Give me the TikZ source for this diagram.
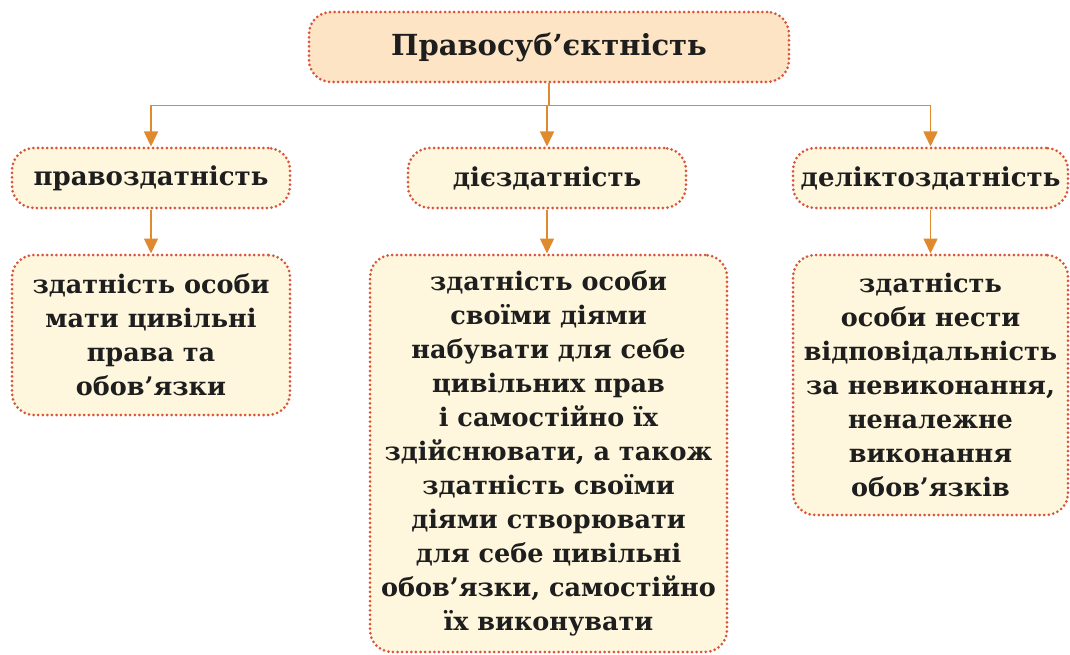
\documentclass[tikz,border=0pt]{standalone}
\usepackage{fontspec}
\setmainfont{DejaVu Serif}
\usetikzlibrary{arrows.meta}
\definecolor{dotc}{HTML}{D9553A}
\definecolor{arrc}{HTML}{E08A30}
\definecolor{topfill}{HTML}{FDE4C4}
\definecolor{boxfill}{HTML}{FEF7DD}
\definecolor{txt}{HTML}{1E1E1E}
\tikzset{
  x=1pt,y=1pt,
  dotbox/.style={draw=dotc, line width=3pt, dash pattern=on 0pt off 4.6pt, line cap=round,
    rounded corners=22pt, fill=boxfill, text=txt, align=center, inner sep=0pt, font=\bfseries\fontsize{25.5}{34}\selectfont},
  topbox/.style={dotbox, fill=topfill, font=\bfseries\fontsize{29}{34}\selectfont},
  lvl/.style={dotbox, font=\bfseries\fontsize{26}{30}\selectfont},
  conn/.style={draw=arrc, line width=1.6pt},
  arr/.style={conn, -{Triangle[width=14pt,length=15pt]}}
}
\begin{document}
\begin{tikzpicture}
\useasboundingbox (0,0) rectangle (1070,-655);
\node[topbox, minimum width=480pt, minimum height=70pt] (top) at (549,-47) {Правосуб’єктність};
\node[lvl, minimum width=278pt, minimum height=60pt] (a) at (151,-178) {правоздатність};
\node[lvl, minimum width=278pt, minimum height=60pt] (b) at (547,-178) {дієздатність};
\node[lvl, minimum width=275pt, minimum height=60pt] (c) at (930.5,-178) {деліктоздатність};
\node[dotbox, minimum width=278pt, minimum height=160pt] (a2) at (151,-335)
  {здатність особи\\мати цивільні\\права та\\обов’язки};
\node[dotbox, minimum width=357pt, minimum height=397pt] (b2) at (548.5,-453.5)
  {здатність особи\\своїми діями\\набувати для себе\\цивільних прав\\і самостійно їх\\здійснювати, а також\\здатність своїми\\діями створювати\\для себе цивільні\\обов’язки, самостійно\\їх виконувати};
\node[dotbox, minimum width=275pt, minimum height=260pt] (c2) at (930.5,-385)
  {здатність\\особи нести\\відповідальність\\за невиконання,\\неналежне\\виконання\\обов’язків};
\draw[conn] (top.south) -- ++(0,-22) coordinate (j);
\draw[conn] (j -| a.north) -- (j -| c.north);
\draw[arr] (j -| a.north) -- (a.north);
\draw[arr] (j -| b.north) -- (b.north);
\draw[arr] (j -| c.north) -- (c.north);
\draw[arr] (a.south) -- (a.south |- a2.north);
\draw[arr] (b.south) -- (b.south |- b2.north);
\draw[arr] (c.south) -- (c.south |- c2.north);
\end{tikzpicture}
\end{document}
